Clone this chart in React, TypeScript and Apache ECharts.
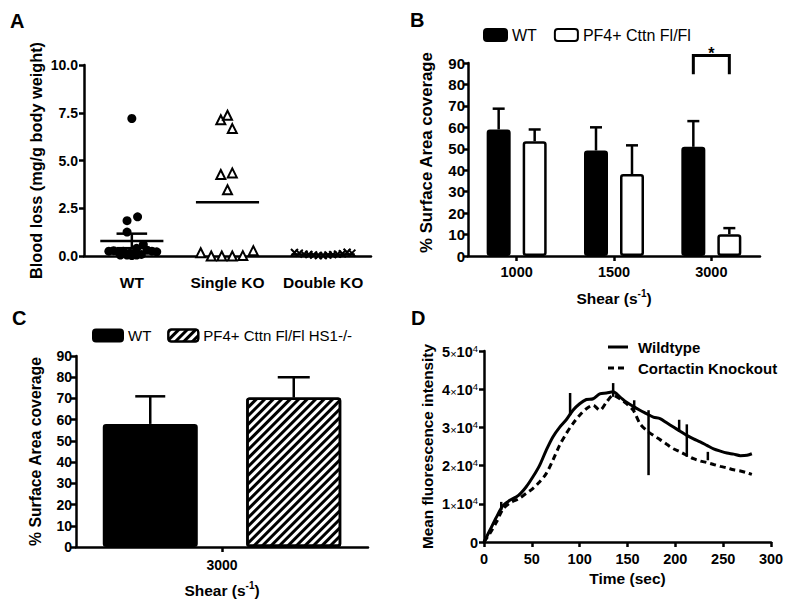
import React, { useEffect, useRef } from "react";
import * as echarts from "echarts";

// ---------- Panel A: blood loss scatter ----------
const A_CATEGORIES = ["WT", "Single KO", "Double KO"];
const A_WT_VALUES = [7.2, 2.05, 1.85, 1.25, 0.6, 0.4, 0.25, 0.28, 0.22, 0.25, 0.3, 0.25, 0.22, 0.05, 0.05, 0.02, 0.05, 0.08, 0.15, 0.12];
const A_WT_JITTER = [0, 0.06, -0.05, -0.05, 0.12, 0.05, -0.24, -0.19, -0.14, -0.09, 0.16, 0.21, 0.26, -0.12, -0.05, 0, 0.05, 0.1, -0.02, 0.03];
const A_SKO_VALUES = [7.13, 7.37, 6.67, 4.27, 4.35, 3.47, 0.17, 0.0, 0.0, 0.0, 0.02, 0.28];
const A_SKO_JITTER = [-0.07, 0, 0.05, -0.07, 0.05, 0, -0.28, -0.17, -0.06, 0.05, 0.16, 0.27];
const A_DKO_VALUES = [0.18, 0.15, 0.1, 0.08, 0.05, 0.03, 0.02, 0.05, 0.07, 0.1, 0.12, 0.2, 0.15];
const A_DKO_JITTER = [-0.3, -0.25, -0.2, -0.15, -0.1, -0.05, 0, 0.05, 0.1, 0.15, 0.2, 0.25, 0.3];
const A_MEANS = [0.79, 2.82, 0.08];
const A_SEMS = [0.38, 0, 0];
const A_Y_TICKS = [0, 2.5, 5, 7.5, 10];

// ---------- Panel B: surface coverage vs shear ----------
const B_CATEGORIES = ["1000", "1500", "3000"];
const B_WT = [59, 49.2, 50.9];
const B_WT_ERR = [9.7, 10.8, 12];
const B_KO = [53.5, 38.2, 10.2];
const B_KO_ERR = [5.5, 13.4, 2.8];
const B_SIG = [[2, 93.5, 84.7]]; // category index, bracket top, bracket leg bottom

// ---------- Panel C ----------
const C_CATEGORIES = ["3000"];
const C_WT = [58];
const C_WT_ERR = [13];
const C_DKO = [70.4];
const C_DKO_ERR = [9.6];

// ---------- Panel D: fluorescence over time ----------
const D_SERIES_NAMES = ["Wildtype", "Cortactin Knockout"];
const D_TIME = [0, 6, 13, 20, 27, 36, 44, 51, 58, 65, 72, 79, 86, 93, 100, 107, 114, 121, 128, 135, 142, 149, 156, 163, 170, 177, 184, 191, 198, 205, 212, 219, 226, 233, 240, 247, 254, 261, 268, 275, 280];
const D_WILDTYPE = [0, 3000, 6500, 9600, 10900, 12200, 14400, 17000, 20000, 24000, 27500, 30000, 32000, 34500, 36200, 37300, 37500, 38800, 39000, 39300, 38000, 36600, 35500, 34500, 33600, 32700, 32300, 31200, 30100, 29000, 27900, 27000, 26200, 25300, 24400, 23800, 23300, 23000, 22600, 22700, 23100];
const D_KNOCKOUT = [0, 2200, 5200, 8700, 10200, 11300, 12700, 14000, 15700, 17900, 21400, 25300, 28400, 31000, 33200, 34900, 35800, 34500, 36600, 38400, 37500, 36200, 34500, 31000, 29200, 27900, 26800, 25600, 24400, 23600, 22700, 21800, 21200, 20800, 20300, 19800, 19400, 18900, 18600, 18100, 17700];
const D_ERR_TIME = [18, 90, 135, 157, 172, 204, 212, 234];
const D_ERR_LOW = [8300, 33200, 38000, 34500, 17500, 28800, 22300, 21400];
const D_ERR_HIGH = [10500, 39000, 41600, 37100, 34500, 32000, 30800, 23600];

const FONT = 'Arial, "Liberation Sans", Helvetica, sans-serif';
const BLACK = "#000";

const axisLine = { show: true, lineStyle: { color: BLACK, width: 2.5 } };
const axisTick = { show: true, length: 5, inside: false, lineStyle: { color: BLACK, width: 2.5 } };
const tickLabel = (size: number, margin: number) => ({
  color: BLACK,
  fontWeight: "bold",
  fontSize: size,
  fontFamily: FONT,
  margin,
});
const nameStyle = (size: number) => ({
  color: BLACK,
  fontWeight: "bold",
  fontSize: size,
  fontFamily: FONT,
});
const supRich = {
  b: { fontSize: 15.5, fontWeight: "bold", fontFamily: FONT, color: BLACK, lineHeight: 18, verticalAlign: "bottom" },
  s: { fontSize: 10, fontWeight: "bold", fontFamily: FONT, color: BLACK, lineHeight: 11, verticalAlign: "top" },
};

function errorBars(
  xAxisIndex: number,
  yAxisIndex: number,
  vals: number[],
  errs: number[],
  offsetPx: number,
  capPx: number
) {
  return {
    type: "custom",
    xAxisIndex,
    yAxisIndex,
    silent: true,
    z: 3,
    encode: { x: 0, y: [1, 2] },
    data: vals.map((v, i) => [i, v, v + errs[i]]),
    renderItem: (_p: any, api: any) => {
      const base = api.coord([api.value(0), api.value(1)]);
      const top = api.coord([api.value(0), api.value(2)]);
      const x = base[0] + offsetPx;
      const st = { stroke: BLACK, lineWidth: 2.5, fill: null };
      return {
        type: "group",
        children: [
          { type: "line", shape: { x1: x, y1: base[1], x2: x, y2: top[1] }, style: st },
          { type: "line", shape: { x1: x - capPx / 2, y1: top[1], x2: x + capPx / 2, y2: top[1] }, style: st },
        ],
      };
    },
  };
}

function buildOption(): any {
  const hatchDecal = {
    symbol: "rect",
    symbolSize: 1,
    symbolKeepAspect: false,
    color: BLACK,
    backgroundColor: "#fff",
    dashArrayX: [1, 0],
    dashArrayY: [2.5, 3],
    rotation: -Math.PI / 4,
  };

  const legendText = { fontFamily: FONT, color: BLACK, fontWeight: "bold", fontSize: 15 };

  return {
    animation: false,
    backgroundColor: "#fff",
    textStyle: { fontFamily: FONT },
    grid: [
      { left: 84, top: 65, width: 287, height: 191, outerBoundsMode: "none" },
      { left: 468, top: 63, width: 292, height: 193, outerBoundsMode: "none" },
      { left: 76, top: 356, width: 292, height: 191, outerBoundsMode: "none" },
      { left: 484, top: 351, width: 287, height: 191, outerBoundsMode: "none" },
    ],
    legend: [
      {
        data: ["WT", "PF4+ Cttn Fl/Fl"],
        left: 483,
        top: 27,
        padding: 0,
        itemWidth: 23,
        itemHeight: 12,
        itemGap: 17,
        icon: "roundRect",
        selectedMode: false,
        textStyle: { fontSize: 16, color: BLACK, fontFamily: FONT },
      },
      {
        data: ["WT", "PF4+ Cttn Fl/Fl HS1-/-"],
        left: 92,
        top: 328,
        padding: 0,
        itemWidth: 30,
        itemHeight: 12,
        itemGap: 16,
        icon: "roundRect",
        selectedMode: false,
        textStyle: { fontSize: 15, color: BLACK, fontFamily: FONT },
      },
    ],
    xAxis: [
      {
        type: "category",
        gridIndex: 0,
        data: A_CATEGORIES,
        boundaryGap: true,
        axisLine,
        axisTick: { show: false },
        axisLabel: { ...tickLabel(15.5, 18), interval: 0 },
        splitLine: { show: false },
      },
      {
        type: "value",
        gridIndex: 0,
        min: 0.5,
        max: 3.5,
        show: false,
        splitLine: { show: false },
      },
      {
        type: "category",
        gridIndex: 1,
        data: B_CATEGORIES,
        axisLine,
        axisTick: { ...axisTick, alignWithLabel: true },
        axisLabel: { ...tickLabel(14.5, 8), interval: 0 },
        name: "{b|Shear (s}{s|-1}{b|)}",
        nameLocation: "middle",
        nameGap: 32,
        nameTextStyle: { ...nameStyle(15.5), rich: supRich },
        splitLine: { show: false },
      },
      {
        type: "category",
        gridIndex: 2,
        data: C_CATEGORIES,
        axisLine,
        axisTick: { ...axisTick, alignWithLabel: true },
        axisLabel: { ...tickLabel(14, 11), interval: 0 },
        name: "{b|Shear (s}{s|-1}{b|)}",
        nameLocation: "middle",
        nameGap: 33,
        nameTextStyle: { ...nameStyle(15.5), rich: supRich },
        splitLine: { show: false },
      },
      {
        type: "value",
        gridIndex: 3,
        min: 0,
        max: 300,
        interval: 50,
        axisLine,
        axisTick,
        axisLabel: tickLabel(14.5, 9),
        name: "Time (sec)",
        nameLocation: "middle",
        nameGap: 28,
        nameTextStyle: nameStyle(15.5),
        splitLine: { show: false },
      },
    ],
    yAxis: [
      {
        type: "value",
        gridIndex: 0,
        min: A_Y_TICKS[0],
        max: A_Y_TICKS[A_Y_TICKS.length - 1],
        interval: 2.5,
        axisLine,
        axisTick,
        axisLabel: { ...tickLabel(14, 6), formatter: (v: number) => v.toFixed(1) },
        name: "Blood loss (mg/g body weight)",
        nameLocation: "middle",
        nameGap: 40,
        nameTextStyle: nameStyle(16.3),
        splitLine: { show: false },
      },
      {
        type: "value",
        gridIndex: 1,
        min: 0,
        max: 90,
        interval: 10,
        axisLine,
        axisTick,
        axisLabel: tickLabel(15, 3),
        name: "% Surface Area coverage",
        nameLocation: "middle",
        nameGap: 33,
        nameTextStyle: { ...nameStyle(16.8), padding: [0, 0, 0, 14] },
        splitLine: { show: false },
      },
      {
        type: "value",
        gridIndex: 2,
        min: 0,
        max: 90,
        interval: 10,
        axisLine,
        axisTick,
        axisLabel: tickLabel(14, 4),
        name: "% Surface Area coverage",
        nameLocation: "middle",
        nameGap: 33,
        nameTextStyle: nameStyle(15.8),
        splitLine: { show: false },
      },
      {
        type: "value",
        gridIndex: 3,
        min: 0,
        max: 50000,
        interval: 10000,
        axisLine,
        axisTick,
        axisLabel: {
          ...tickLabel(14, 6),
          formatter: (v: number) => (v === 0 ? "{n|0}" : `{n|${v / 10000}}{x|×}{n|10}{s|4}`),
          rich: {
            n: { fontSize: 14.5, fontWeight: "bold", fontFamily: FONT, color: BLACK, lineHeight: 16, verticalAlign: "bottom" },
            x: { fontSize: 11, fontWeight: "normal", fontFamily: FONT, color: BLACK, lineHeight: 16, verticalAlign: "bottom" },
            s: { fontSize: 9.5, fontWeight: "normal", fontFamily: FONT, color: BLACK, lineHeight: 10, verticalAlign: "top" },
          },
        },
        name: "Mean fluorescence intensity",
        nameLocation: "middle",
        nameGap: 49,
        nameTextStyle: nameStyle(15.3),
        splitLine: { show: false },
      },
    ],
    series: [
      // ---- Panel A ----
      {
        type: "scatter",
        name: "A-WT",
        xAxisIndex: 1,
        yAxisIndex: 0,
        symbol: "circle",
        symbolSize: 9,
        itemStyle: { color: BLACK, opacity: 1 },
        data: A_WT_VALUES.map((v, i) => [1 + A_WT_JITTER[i], v]),
        z: 4,
      },
      {
        type: "scatter",
        name: "A-SKO",
        xAxisIndex: 1,
        yAxisIndex: 0,
        symbol: "triangle",
        symbolSize: 9,
        itemStyle: { color: "#fff", borderColor: BLACK, borderWidth: 2, opacity: 1 },
        data: A_SKO_VALUES.map((v, i) => [2 + A_SKO_JITTER[i], v]),
        z: 4,
      },
      {
        type: "scatter",
        name: "A-DKO",
        xAxisIndex: 1,
        yAxisIndex: 0,
        symbol: "path://M0 0L10 10M10 0L0 10",
        symbolSize: 7,
        itemStyle: { color: BLACK, borderColor: BLACK, borderWidth: 2, opacity: 1 },
        data: A_DKO_VALUES.map((v, i) => [3 + A_DKO_JITTER[i], v]),
        z: 4,
      },
      {
        type: "custom",
        name: "A-mean",
        xAxisIndex: 1,
        yAxisIndex: 0,
        silent: true,
        z: 5,
        encode: { x: 0, y: 1 },
        data: A_MEANS.map((m, i) => [i + 1, m, A_SEMS[i]]),
        renderItem: (_p: any, api: any) => {
          const x = api.value(0);
          const m = api.value(1);
          const s = api.value(2);
          const c = api.coord([x, m]);
          const unit = api.size([1, 0])[0];
          const st = { stroke: BLACK, lineWidth: 2.5, fill: null };
          const children: any[] = [
            { type: "line", shape: { x1: c[0] - unit * 0.33, y1: c[1], x2: c[0] + unit * 0.33, y2: c[1] }, style: st },
          ];
          if (s > 0) {
            const hi = api.coord([x, m + s]);
            const lo = api.coord([x, m - s]);
            children.push(
              { type: "line", shape: { x1: c[0], y1: lo[1], x2: c[0], y2: hi[1] }, style: st },
              { type: "line", shape: { x1: c[0] - unit * 0.16, y1: hi[1], x2: c[0] + unit * 0.16, y2: hi[1] }, style: st },
              { type: "line", shape: { x1: c[0] - unit * 0.16, y1: lo[1], x2: c[0] + unit * 0.16, y2: lo[1] }, style: st }
            );
          }
          return { type: "group", children };
        },
      },
      // ---- Panel B ----
      {
        type: "bar",
        name: "WT",
        xAxisIndex: 2,
        yAxisIndex: 1,
        barWidth: 24,
        barGap: "50%",
        itemStyle: { color: BLACK, borderColor: BLACK, borderWidth: 2.5, borderRadius: 2 },
        data: B_WT,
      },
      {
        type: "bar",
        name: "PF4+ Cttn Fl/Fl",
        xAxisIndex: 2,
        yAxisIndex: 1,
        barWidth: 24,
        barGap: "50%",
        itemStyle: { color: "#fff", borderColor: BLACK, borderWidth: 2.5, borderRadius: 2 },
        data: B_KO,
      },
      errorBars(2, 1, B_WT, B_WT_ERR, -18, 12),
      errorBars(2, 1, B_KO, B_KO_ERR, 18, 12),
      {
        type: "custom",
        name: "B-sig",
        xAxisIndex: 2,
        yAxisIndex: 1,
        silent: true,
        clip: false,
        z: 5,
        encode: { x: 0, y: [1, 2] },
        data: B_SIG,
        renderItem: (_p: any, api: any) => {
          const topP = api.coord([api.value(0), api.value(1)]);
          const legP = api.coord([api.value(0), api.value(2)]);
          const x1 = topP[0] - 18;
          const x2 = topP[0] + 18;
          return {
            type: "group",
            children: [
              {
                type: "polyline",
                shape: { points: [[x1, legP[1]], [x1, topP[1]], [x2, topP[1]], [x2, legP[1]]] },
                style: { stroke: BLACK, lineWidth: 3, fill: null },
              },
              {
                type: "text",
                x: topP[0],
                y: topP[1] - 2,
                style: { text: "*", fontSize: 16, fontWeight: "bold", fontFamily: FONT, fill: BLACK, align: "center", verticalAlign: "middle" },
              },
            ],
          };
        },
      },
      // ---- Panel C ----
      {
        type: "bar",
        name: "WT",
        xAxisIndex: 3,
        yAxisIndex: 2,
        barWidth: 95,
        barGap: "51%",
        itemStyle: { color: BLACK, borderColor: BLACK, borderWidth: 2.5, borderRadius: 2 },
        data: C_WT,
      },
      {
        type: "bar",
        name: "PF4+ Cttn Fl/Fl HS1-/-",
        xAxisIndex: 3,
        yAxisIndex: 2,
        barWidth: 95,
        barGap: "51%",
        itemStyle: { color: "#fff", borderColor: BLACK, borderWidth: 2.5, borderRadius: 2, decal: hatchDecal },
        data: C_DKO,
      },
      errorBars(3, 2, C_WT, C_WT_ERR, -71.75, 30),
      errorBars(3, 2, C_DKO, C_DKO_ERR, 71.75, 32),
      // ---- Panel D ----
      {
        type: "line",
        name: D_SERIES_NAMES[0],
        xAxisIndex: 4,
        yAxisIndex: 3,
        symbol: "none",
        showSymbol: false,
        smooth: 0.3,
        lineStyle: { color: BLACK, width: 3 },
        itemStyle: { color: BLACK },
        data: D_TIME.map((t, i) => [t, D_WILDTYPE[i]]),
      },
      {
        type: "line",
        name: D_SERIES_NAMES[1],
        xAxisIndex: 4,
        yAxisIndex: 3,
        symbol: "none",
        showSymbol: false,
        smooth: 0.3,
        lineStyle: { color: BLACK, width: 3, type: [6, 4] },
        itemStyle: { color: BLACK },
        data: D_TIME.map((t, i) => [t, D_KNOCKOUT[i]]),
      },
      {
        type: "custom",
        name: "D-err",
        xAxisIndex: 4,
        yAxisIndex: 3,
        silent: true,
        z: 4,
        encode: { x: 0, y: [1, 2] },
        data: D_ERR_TIME.map((t, i) => [t, D_ERR_LOW[i], D_ERR_HIGH[i]]),
        renderItem: (_p: any, api: any) => {
          const lo = api.coord([api.value(0), api.value(1)]);
          const hi = api.coord([api.value(0), api.value(2)]);
          return {
            type: "line",
            shape: { x1: lo[0], y1: lo[1], x2: hi[0], y2: hi[1] },
            style: { stroke: BLACK, lineWidth: 2.5 },
          };
        },
      },
    ],
    graphic: [
      { type: "text", left: 10, top: 11, style: { text: "A", fontSize: 20, fontWeight: "bold", fontFamily: FONT, fill: BLACK } },
      { type: "text", left: 410, top: 10, style: { text: "B", fontSize: 20, fontWeight: "bold", fontFamily: FONT, fill: BLACK } },
      { type: "text", left: 12, top: 308, style: { text: "C", fontSize: 20, fontWeight: "bold", fontFamily: FONT, fill: BLACK } },
      { type: "text", left: 411, top: 308, style: { text: "D", fontSize: 20, fontWeight: "bold", fontFamily: FONT, fill: BLACK } },
      // Panel D legend
      { type: "line", shape: { x1: 608, y1: 347, x2: 628, y2: 347 }, style: { stroke: BLACK, lineWidth: 3 } },
      { type: "line", shape: { x1: 608, y1: 368, x2: 628, y2: 368 }, style: { stroke: BLACK, lineWidth: 3, lineDash: [6, 4] } },
      { type: "text", x: 638, y: 347, style: { text: D_SERIES_NAMES[0], ...legendText, verticalAlign: "middle" } },
      { type: "text", x: 638, y: 368, style: { text: D_SERIES_NAMES[1], ...legendText, verticalAlign: "middle" } },
    ],
  };
}

export default function App() {
  const ref = useRef<HTMLDivElement>(null);
  useEffect(() => {
    if (!ref.current) return;
    const chart = echarts.init(ref.current, null, { renderer: "svg" });
    chart.setOption(buildOption());
    return () => chart.dispose();
  }, []);
  return (
    <div
      ref={ref}
      style={{ position: "fixed", left: 0, top: 0, width: 800, height: 613, background: "#fff" }}
    />
  );
}
